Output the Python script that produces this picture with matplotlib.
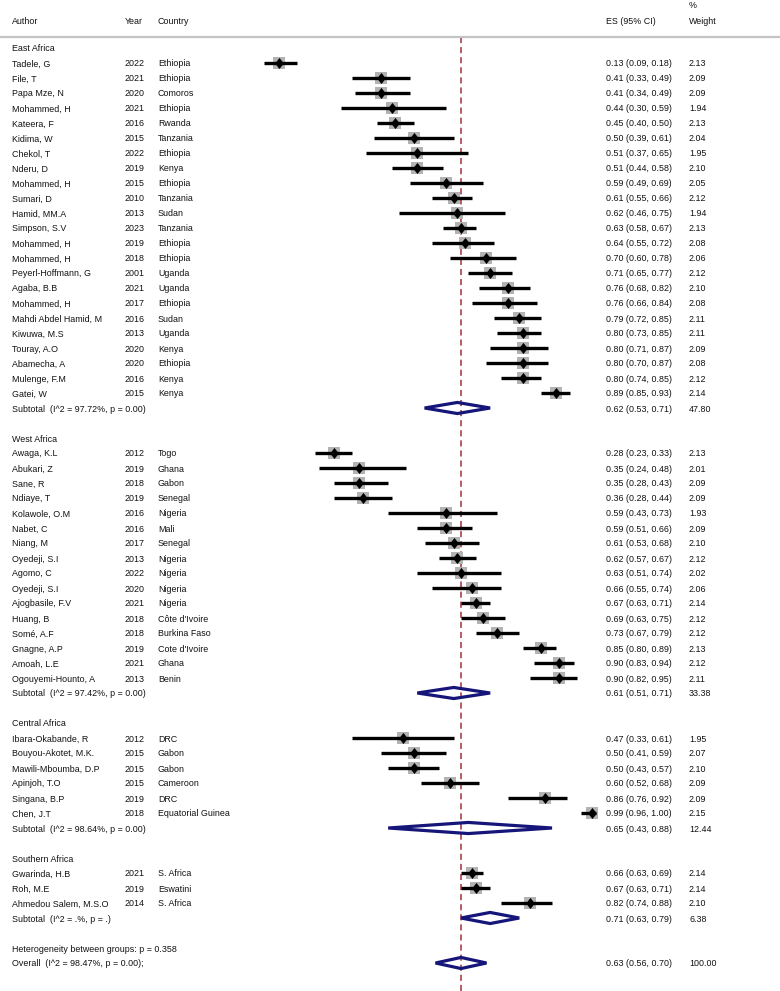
import numpy as np
import matplotlib.pyplot as plt
import matplotlib.transforms as mtransforms
from matplotlib import font_manager
from matplotlib.patches import Polygon

names = {f.name for f in font_manager.fontManager.ttflist}
if 'Liberation Sans Narrow' in names:
    plt.rcParams['font.family'] = ['Liberation Sans Narrow', 'DejaVu Sans']
    fs = 7.2
else:
    plt.rcParams['font.family'] = ['Liberation Sans', 'DejaVu Sans']
    fs = 6.4

regions = ['East Africa', 'West Africa', 'Central Africa', 'Southern Africa']
n_studies = [23, 16, 6, 3]

author = ['Tadele, G', 'File, T', 'Papa Mze, N', 'Mohammed, H', 'Kateera, F', 'Kidima, W',
          'Chekol, T', 'Nderu, D', 'Mohammed, H', 'Sumari, D', 'Hamid, MM.A', 'Simpson, S.V',
          'Mohammed, H', 'Mohammed, H', 'Peyerl-Hoffmann, G', 'Agaba, B.B', 'Mohammed, H',
          'Mahdi Abdel Hamid, M', 'Kiwuwa, M.S', 'Touray, A.O', 'Abamecha, A', 'Mulenge, F.M',
          'Gatei, W',
          'Awaga, K.L', 'Abukari, Z', 'Sane, R', 'Ndiaye, T', 'Kolawole, O.M', 'Nabet, C',
          'Niang, M', 'Oyedeji, S.I', 'Agomo, C', 'Oyedeji, S.I', 'Ajogbasile, F.V', 'Huang, B',
          'Somé, A.F', 'Gnagne, A.P', 'Amoah, L.E', 'Ogouyemi-Hounto, A',
          'Ibara-Okabande, R', 'Bouyou-Akotet, M.K.', 'Mawili-Mboumba, D.P', 'Apinjoh, T.O',
          'Singana, B.P', 'Chen, J.T',
          'Gwarinda, H.B', 'Roh, M.E', 'Ahmedou Salem, M.S.O']
year = [2022, 2021, 2020, 2021, 2016, 2015, 2022, 2019, 2015, 2010, 2013, 2023, 2019, 2018,
        2001, 2021, 2017, 2016, 2013, 2020, 2020, 2016, 2015,
        2012, 2019, 2018, 2019, 2016, 2016, 2017, 2013, 2022, 2020, 2021, 2018, 2018, 2019,
        2021, 2013,
        2012, 2015, 2015, 2015, 2019, 2018,
        2021, 2019, 2014]
country = ['Ethiopia', 'Ethiopia', 'Comoros', 'Ethiopia', 'Rwanda', 'Tanzania', 'Ethiopia',
           'Kenya', 'Ethiopia', 'Tanzania', 'Sudan', 'Tanzania', 'Ethiopia', 'Ethiopia',
           'Uganda', 'Uganda', 'Ethiopia', 'Sudan', 'Uganda', 'Kenya', 'Ethiopia', 'Kenya',
           'Kenya',
           'Togo', 'Ghana', 'Gabon', 'Senegal', 'Nigeria', 'Mali', 'Senegal', 'Nigeria',
           'Nigeria', 'Nigeria', 'Nigeria', "Côte d'Ivoire", 'Burkina Faso', "Cote d'Ivoire",
           'Ghana', 'Benin',
           'DRC', 'Gabon', 'Gabon', 'Cameroon', 'DRC', 'Equatorial Guinea',
           'S. Africa', 'Eswatini', 'S. Africa']
es = [0.13, 0.41, 0.41, 0.44, 0.45, 0.50, 0.51, 0.51, 0.59, 0.61, 0.62, 0.63, 0.64, 0.70,
      0.71, 0.76, 0.76, 0.79, 0.80, 0.80, 0.80, 0.80, 0.89,
      0.28, 0.35, 0.35, 0.36, 0.59, 0.59, 0.61, 0.62, 0.63, 0.66, 0.67, 0.69, 0.73, 0.85,
      0.90, 0.90,
      0.47, 0.50, 0.50, 0.60, 0.86, 0.99,
      0.66, 0.67, 0.82]
lo = [0.09, 0.33, 0.34, 0.30, 0.40, 0.39, 0.37, 0.44, 0.49, 0.55, 0.46, 0.58, 0.55, 0.60,
      0.65, 0.68, 0.66, 0.72, 0.73, 0.71, 0.70, 0.74, 0.85,
      0.23, 0.24, 0.28, 0.28, 0.43, 0.51, 0.53, 0.57, 0.51, 0.55, 0.63, 0.63, 0.67, 0.80,
      0.83, 0.82,
      0.33, 0.41, 0.43, 0.52, 0.76, 0.96,
      0.63, 0.63, 0.74]
hi = [0.18, 0.49, 0.49, 0.59, 0.50, 0.61, 0.65, 0.58, 0.69, 0.66, 0.75, 0.67, 0.72, 0.78,
      0.77, 0.82, 0.84, 0.85, 0.85, 0.87, 0.87, 0.85, 0.93,
      0.33, 0.48, 0.43, 0.44, 0.73, 0.66, 0.68, 0.67, 0.74, 0.74, 0.71, 0.75, 0.79, 0.89,
      0.94, 0.95,
      0.61, 0.59, 0.57, 0.68, 0.92, 1.00,
      0.69, 0.71, 0.88]
weight = [2.13, 2.09, 2.09, 1.94, 2.13, 2.04, 1.95, 2.10, 2.05, 2.12, 1.94, 2.13, 2.08, 2.06,
          2.12, 2.10, 2.08, 2.11, 2.11, 2.09, 2.08, 2.12, 2.14,
          2.13, 2.01, 2.09, 2.09, 1.93, 2.09, 2.10, 2.12, 2.02, 2.06, 2.14, 2.12, 2.12, 2.13,
          2.12, 2.11,
          1.95, 2.07, 2.10, 2.09, 2.09, 2.15,
          2.14, 2.14, 2.10]

sub_es = [0.62, 0.61, 0.65, 0.71]
sub_lo = [0.53, 0.51, 0.43, 0.63]
sub_hi = [0.71, 0.71, 0.88, 0.79]
sub_w = [47.80, 33.38, 12.44, 6.38]
sub_het = ['(I^2 = 97.72%, p = 0.00)', '(I^2 = 97.42%, p = 0.00)',
           '(I^2 = 98.64%, p = 0.00)', '(I^2 = .%, p = .)']
het_between = 'Heterogeneity between groups: p = 0.358'
overall_es, overall_lo, overall_hi = 0.63, 0.56, 0.70
overall_het = '(I^2 = 98.47%, p = 0.00);'


# pixel layout -> data coords
def xv(px):
    return (px - 279) / 364 + 0.13


def yr(py):
    return (py - 48) / 15


fig = plt.figure(figsize=(7.8, 9.91), dpi=100)
ax = fig.add_axes([0, 0, 1, 1])
ax.axis('off')
ax.set_xlim(xv(0), xv(780))
ax.set_ylim(yr(991), yr(0))
tr = mtransforms.blended_transform_factory(fig.transFigure, ax.transData)

col_author, col_year, col_country, col_es, col_w = 12 / 780, 125 / 780, 158 / 780, 606 / 780, 689 / 780
navy = '#15157a'
tall_diamond = [(-0.78, 0), (0, 1), (0.78, 0), (0, -1)]


def txt(x, y, s):
    ax.text(x, y, s, transform=tr, fontsize=fs, va='center_baseline', ha='left',
            color='#111111')


# header
txt(col_author, yr(21), 'Author')
txt(col_year, yr(21), 'Year')
txt(col_country, yr(21), 'Country')
txt(col_es, yr(21), 'ES (95% CI)')
txt(col_w, yr(5), '%')
txt(col_w, yr(21), 'Weight')
ax.plot([0, 1], [yr(37), yr(37)], transform=tr, color='#c4c4c4', lw=1.6, solid_capstyle='butt')


def diamond(y, e, l, h):
    ax.add_patch(Polygon([[l, y], [e, y - 0.37], [h, y], [e, y + 0.37]], closed=True,
                         fill=False, edgecolor=navy, lw=2.3, joinstyle='miter', zorder=4))


row = 0
i = 0
for g, region in enumerate(regions):
    txt(col_author, row, region)
    row += 1
    for k in range(n_studies[g]):
        txt(col_author, row, author[i])
        txt(col_year, row, str(year[i]))
        txt(col_country, row, country[i])
        txt(col_es, row, f'{es[i]:.2f} ({lo[i]:.2f}, {hi[i]:.2f})')
        txt(col_w, row, f'{weight[i]:.2f}')
        side = 9.0 * np.sqrt(weight[i] / 2.13)
        ax.scatter(es[i], row, marker='s', s=side ** 2, color='#b3b3b3', lw=0, zorder=2)
        ax.plot([lo[i], hi[i]], [row, row], color='black', lw=2.4, solid_capstyle='butt', zorder=3)
        ax.plot(es[i], row, marker=tall_diamond, ms=8.0, color='black', mew=0, zorder=5)
        row += 1
        i += 1
    txt(col_author, row, 'Subtotal  ' + sub_het[g])
    txt(col_es, row, f'{sub_es[g]:.2f} ({sub_lo[g]:.2f}, {sub_hi[g]:.2f})')
    txt(col_w, row, f'{sub_w[g]:.2f}')
    diamond(row, sub_es[g], sub_lo[g], sub_hi[g])
    row += 2

txt(col_author, row, het_between)
row += 1
txt(col_author, row, 'Overall  ' + overall_het)
txt(col_es, row, f'{overall_es:.2f} ({overall_lo:.2f}, {overall_hi:.2f})')
txt(col_w, row, '100.00')
diamond(row, overall_es, overall_lo, overall_hi)

ax.plot([overall_es, overall_es], [yr(37), yr(991)], color='#a3303c', lw=1.1,
        dashes=(4.0, 2.6), zorder=1)

fig.savefig('out.png', dpi=100)
